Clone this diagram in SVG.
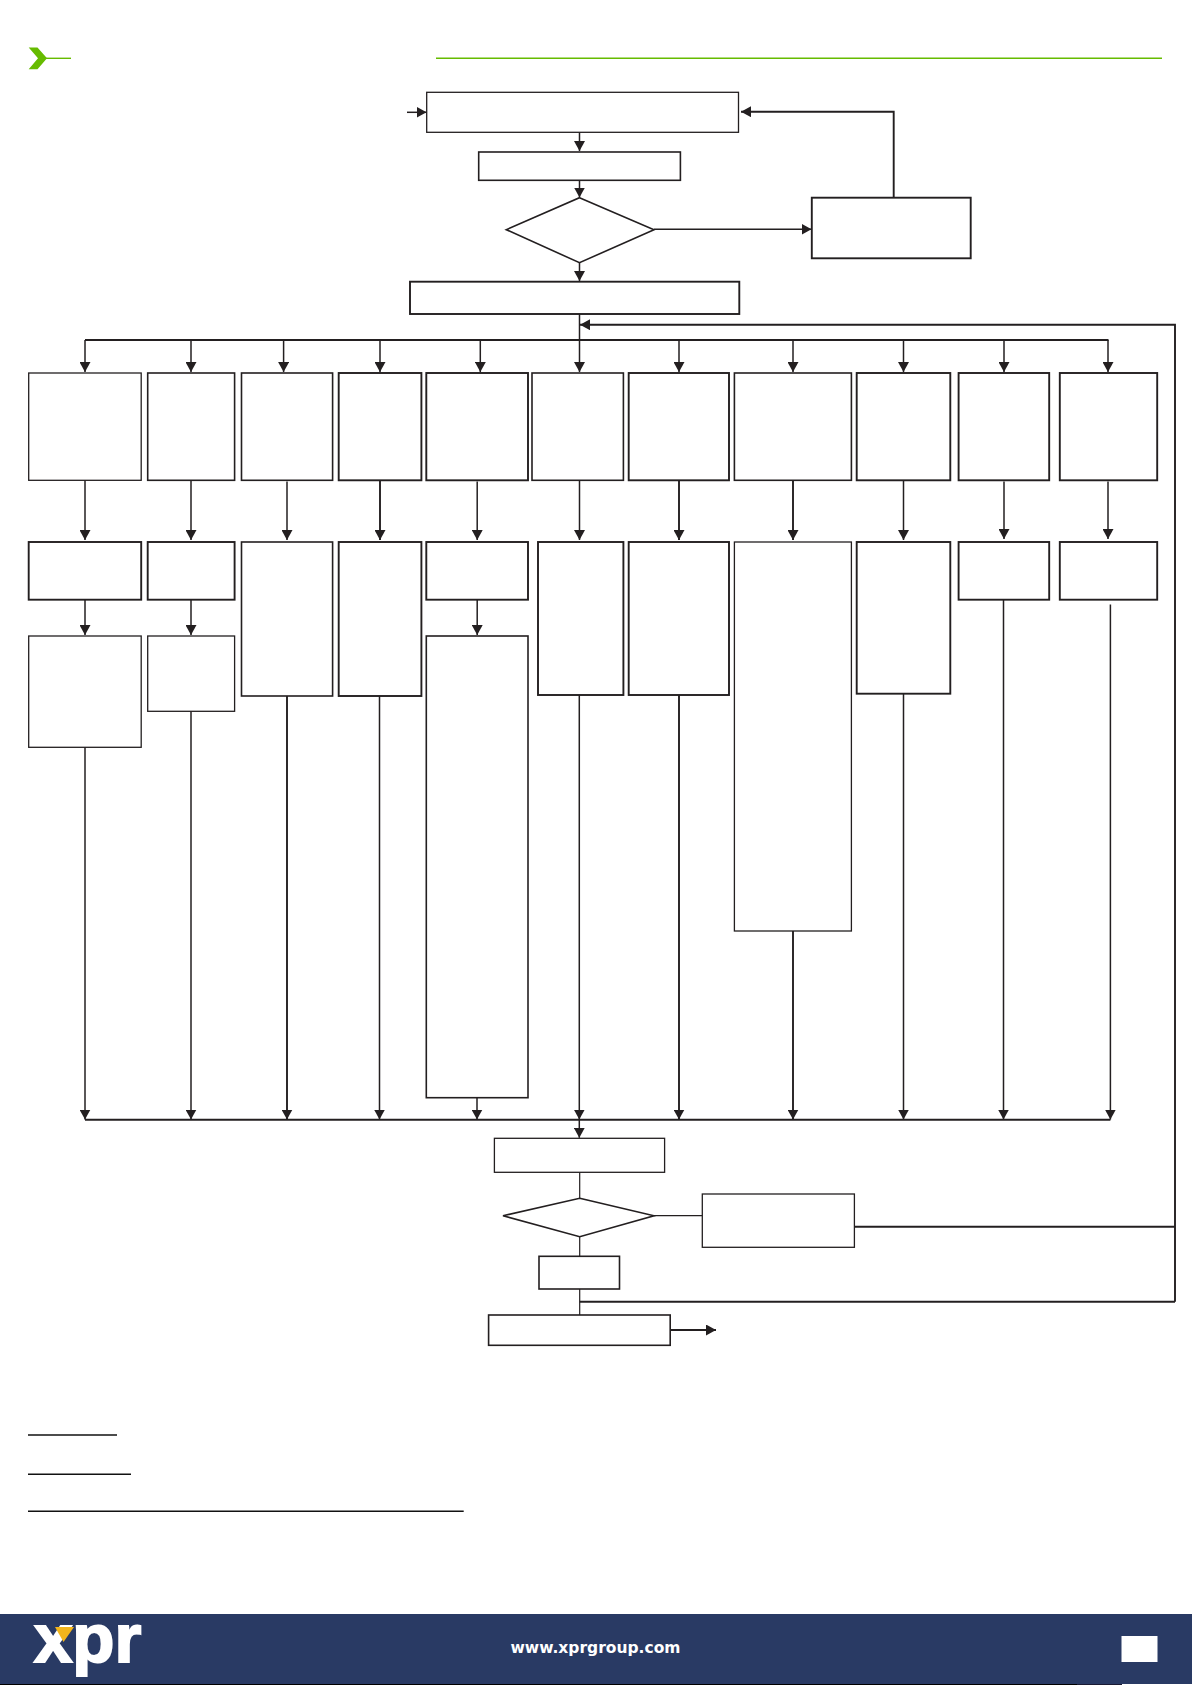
<svg xmlns="http://www.w3.org/2000/svg" width="1192" height="1685" viewBox="0 0 1192 1685">
<style>
.b{fill:#fff;stroke:#231f20;stroke-width:1.6}
.t{fill:#fff;stroke:#231f20;stroke-width:1.3}
.k{fill:#fff;stroke:#231f20;stroke-width:1.9}
#connectors line,#connectors path{fill:none;stroke:#231f20;stroke-width:1.5}
#connectors .h{stroke-width:1.9}
#connectors .n{stroke-width:1.2}
.a{marker-end:url(#arrow)}
.g{stroke:#66bb00;stroke-width:1.4;fill:none}
.u{stroke:#111;stroke-width:1.6}
</style>
<defs>
<marker id="arrow" markerUnits="userSpaceOnUse" markerWidth="11" markerHeight="11" refX="10" refY="5.5" orient="auto">
<path d="M0 0L10 5.5L0 11Z" fill="#231f20"/>
</marker>
</defs>
<rect width="1192" height="1685" fill="#fff"/>
<g id="header">
<polygon points="28.7,47.5 37.5,47.5 47,58.3 37.5,69.3 28.7,69.3 38,58.3" fill="#66bb00"/>
<line class="g" x1="45" y1="58.3" x2="71" y2="58.3"/>
<line class="g" x1="436" y1="58.3" x2="1162" y2="58.3"/>
</g>
<g id="connectors">
<line class="a" x1="407" y1="112.3" x2="426.5" y2="112.3"/>
<line class="a" x1="579.5" y1="132" x2="579.5" y2="151"/>
<line class="a" x1="579.5" y1="180" x2="579.5" y2="197.5"/>
<line class="a" x1="579.5" y1="262.7" x2="579.5" y2="281"/>
<line class="a" x1="654" y1="229.3" x2="811.5" y2="229.3"/>
<path class="a h" d="M893.7 198V111.7H741"/>
<line x1="579.5" y1="314" x2="579.5" y2="372" class="a"/>
<path class="a h" d="M1175 1301.7V324.7H580"/>
<line class="h" x1="85" y1="340" x2="1108.5" y2="340"/>
<line class="a" x1="85" y1="340" x2="85" y2="372"/>
<line class="a" x1="191" y1="340" x2="191" y2="372"/>
<line class="a" x1="283.6" y1="340" x2="283.6" y2="372"/>
<line class="a" x1="380" y1="340" x2="380" y2="372"/>
<line class="a" x1="480.3" y1="340" x2="480.3" y2="372"/>
<line class="a" x1="679" y1="340" x2="679" y2="372"/>
<line class="a" x1="793" y1="340" x2="793" y2="372"/>
<line class="a" x1="903.5" y1="340" x2="903.5" y2="372"/>
<line class="a" x1="1004" y1="340" x2="1004" y2="372"/>
<line class="a" x1="1108" y1="340" x2="1108" y2="372"/>
<line class="a" x1="85" y1="480.3" x2="85" y2="540"/>
<line class="a" x1="191" y1="480.3" x2="191" y2="540"/>
<line class="a" x1="287" y1="481.5" x2="287" y2="540"/>
<line class="a h" x1="380" y1="480.3" x2="380" y2="540"/>
<line class="a" x1="477.2" y1="481.5" x2="477.2" y2="540"/>
<line class="a" x1="579.5" y1="480.3" x2="579.5" y2="540"/>
<line class="a h" x1="679" y1="480.3" x2="679" y2="540"/>
<line class="a h" x1="793" y1="480.3" x2="793" y2="540"/>
<line class="a" x1="903.5" y1="480.3" x2="903.5" y2="540"/>
<line class="a" x1="1004" y1="481.5" x2="1004" y2="539"/>
<line class="a" x1="1108" y1="481.5" x2="1108" y2="539"/>
<line class="a" x1="85" y1="600" x2="85" y2="635"/>
<line class="a" x1="191" y1="600" x2="191" y2="635"/>
<line class="a" x1="477.2" y1="600" x2="477.2" y2="635"/>
<line class="a" x1="85" y1="747" x2="85" y2="1119.5"/>
<line class="a" x1="191" y1="711" x2="191" y2="1119.5"/>
<line class="a h" x1="287" y1="696" x2="287" y2="1119.5"/>
<line class="a" x1="379.5" y1="696" x2="379.5" y2="1119.5"/>
<line class="a" x1="477" y1="1097.5" x2="477" y2="1119.5"/>
<line class="a" x1="579.3" y1="695" x2="579.3" y2="1119.5"/>
<line class="a h" x1="679" y1="695" x2="679" y2="1119.5"/>
<line class="a h" x1="793" y1="931" x2="793" y2="1119.5"/>
<line class="a" x1="903.5" y1="693.7" x2="903.5" y2="1119.5"/>
<line class="a" x1="1003.5" y1="600" x2="1003.5" y2="1119.5"/>
<line class="a" x1="1110.4" y1="604.5" x2="1110.4" y2="1119.5"/>
<line class="h" x1="85" y1="1119.7" x2="1110.4" y2="1119.7"/>
<line class="a" x1="579.3" y1="1119.7" x2="579.3" y2="1137.8"/>
<line class="n" x1="579.7" y1="1172" x2="579.7" y2="1198.5"/>
<line class="n" x1="654" y1="1215.7" x2="702.5" y2="1215.7"/>
<line class="n" x1="579.7" y1="1236.5" x2="579.7" y2="1256.5"/>
<line class="n" x1="579.7" y1="1289" x2="579.7" y2="1315"/>
<line class="h" x1="854.4" y1="1226.7" x2="1175" y2="1226.7"/>
<path class="h" d="M579.7 1301.7H1175"/>
<line class="a h" x1="670" y1="1330" x2="716" y2="1330"/>
</g>
<g id="n-start"><rect class="t" x="426.7" y="92.3" width="311.8" height="40"/></g>
<g id="n-step"><rect class="b" x="478.7" y="152" width="201.7" height="28.3"/></g>
<g id="n-decision-1"><polygon class="b" points="579.5,197.7 654,229.7 579.5,262.7 506.3,229.7"/></g>
<g id="n-side"><rect class="k" x="811.8" y="197.7" width="158.9" height="60.6"/></g>
<g id="n-menu"><rect class="k" x="410" y="281.7" width="329.3" height="32.3"/></g>
<g id="n-a1"><rect class="t" x="28.7" y="373" width="112.5" height="107.3"/></g>
<g id="n-a2"><rect class="b" x="147.7" y="373" width="86.9" height="107.3"/></g>
<g id="n-a3"><rect class="b" x="241.5" y="373" width="91.1" height="107.3"/></g>
<g id="n-a4"><rect class="k" x="338.7" y="373" width="82.7" height="107.3"/></g>
<g id="n-a5"><rect class="k" x="426.3" y="373" width="101.7" height="107.3"/></g>
<g id="n-a6"><rect class="b" x="532" y="373" width="91.4" height="107.3"/></g>
<g id="n-a7"><rect class="k" x="628.7" y="373" width="100.3" height="107.3"/></g>
<g id="n-a8"><rect class="b" x="734.4" y="373" width="117" height="107.3"/></g>
<g id="n-a9"><rect class="k" x="856.7" y="373" width="93.6" height="107.3"/></g>
<g id="n-a10"><rect class="k" x="958.6" y="373" width="90.6" height="107.3"/></g>
<g id="n-a11"><rect class="k" x="1059.8" y="373" width="97.4" height="107.3"/></g>
<g id="n-b1"><rect class="k" x="28.7" y="542" width="112.5" height="57.7"/></g>
<g id="n-b2"><rect class="k" x="147.7" y="542" width="86.9" height="57.7"/></g>
<g id="n-b3"><rect class="b" x="241.5" y="542" width="91.1" height="154"/></g>
<g id="n-b4"><rect class="k" x="338.7" y="542" width="82.7" height="154"/></g>
<g id="n-b5"><rect class="k" x="426.3" y="542" width="101.7" height="57.7"/></g>
<g id="n-b6"><rect class="k" x="538" y="542" width="85.4" height="153"/></g>
<g id="n-b7"><rect class="k" x="628.7" y="542" width="100.3" height="153"/></g>
<g id="n-b8"><rect class="t" x="734.4" y="542" width="117" height="389"/></g>
<g id="n-b9"><rect class="k" x="856.7" y="542" width="93.6" height="151.7"/></g>
<g id="n-b10"><rect class="k" x="958.6" y="542" width="90.6" height="57.7"/></g>
<g id="n-b11"><rect class="k" x="1059.8" y="542" width="97.4" height="57.7"/></g>
<g id="n-c1"><rect class="t" x="28.7" y="636" width="112.5" height="111.3"/></g>
<g id="n-c2"><rect class="t" x="147.7" y="636" width="86.9" height="75.3"/></g>
<g id="n-c5"><rect class="b" x="426.3" y="636" width="101.7" height="461.7"/></g>
<g id="n-save"><rect class="t" x="494.4" y="1138.3" width="170.2" height="34"/></g>
<g id="n-decision-2"><polygon class="b" points="579.7,1198.3 654,1215.7 579.7,1236.7 503,1215.7"/></g>
<g id="n-retry"><rect class="t" x="702.3" y="1194" width="152.1" height="53.3"/></g>
<g id="n-exit"><rect class="b" x="539" y="1256.3" width="80.5" height="32.7"/></g>
<g id="n-end"><rect class="b" x="488.6" y="1315" width="181.6" height="30.3"/></g>
<g id="notes">
<line class="u" x1="28" y1="1435" x2="117" y2="1435"/>
<line class="u" x1="28" y1="1474.3" x2="131" y2="1474.3"/>
<line class="u" x1="28" y1="1511.3" x2="463.7" y2="1511.3"/>
</g>
<g id="footer">
<rect x="0" y="1614" width="1192" height="70" fill="#293a64"/>
<rect x="0" y="1684" width="1077" height="1" fill="#000"/>
<rect x="1077" y="1684" width="45" height="1" fill="#1a1a33"/>
<text x="34" y="1662" font-family="'Liberation Sans', Arial, sans-serif" font-weight="700" font-size="69" fill="#fff" stroke="#fff" stroke-width="2">xpr</text>
<polygon points="55,1627 74,1627 63.5,1642" fill="#f2b51c"/>
<text x="595.5" y="1652.5" text-anchor="middle" font-family="'DejaVu Sans', sans-serif" font-weight="700" font-size="15.5" fill="#fff">www.xprgroup.com</text>
<rect x="1121.5" y="1636" width="36" height="26" fill="#fff"/>
</g>
</svg>
